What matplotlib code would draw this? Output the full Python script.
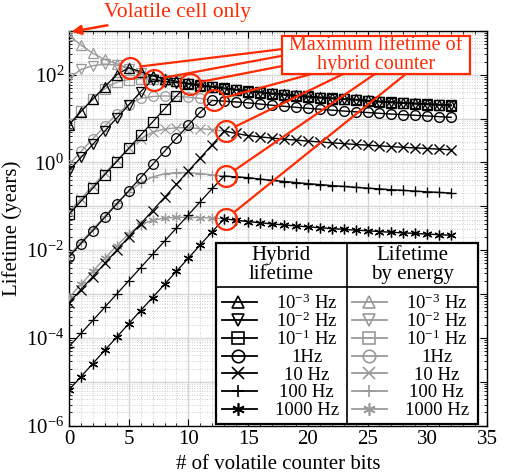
import numpy as np
import matplotlib
matplotlib.use('Agg')
import matplotlib.pyplot as plt
from matplotlib.ticker import MultipleLocator, LogLocator, FuncFormatter, NullFormatter
from matplotlib.patches import Rectangle
from matplotlib.lines import Line2D

plt.rcParams['font.family'] = ['Liberation Serif', 'DejaVu Serif']
plt.rcParams['mathtext.fontset'] = 'custom'
plt.rcParams['mathtext.rm'] = 'Liberation Serif'
plt.rcParams['mathtext.it'] = 'Liberation Serif:italic'

bits = list(range(33))

# hybrid counter lifetime (years)
hyb_1mHz = [7.2, 14.5, 28, 54, 100, 145, 117, 95, 81, 71, 64, 58, 54, 50, 46, 43, 41,
            38, 36, 34, 32.5, 31, 29.5, 28.5, 27.5, 26, 25, 24, 23.2, 22.5, 21.8, 21, 20.5]
hyb_10mHz = [0.65, 1.3, 2.6, 5.2, 10.3, 20.5, 41, 78, 70, 66, 63, 57, 53, 49, 45, 42, 40,
             37, 35, 33, 32, 30, 29, 28, 27, 25.5, 24.5, 23.6, 22.7, 22, 21.3, 20.6, 20]
hyb_100mHz = [0.066, 0.13, 0.26, 0.53, 1.05, 2.1, 4.2, 8.4, 16.7, 33, 62, 56, 52, 48, 44.5,
              41.5, 39, 36.5, 34.5, 32.5, 31, 29.5, 28.5, 27.5, 26.5, 25, 24, 23.2, 22.3,
              21.6, 21, 20.2, 19.6]
hyb_1Hz = [0.0071, 0.0141, 0.028, 0.056, 0.113, 0.225, 0.45, 0.9, 1.8, 3.6, 7.1, 14.2, 26,
           25, 24, 23, 21.5, 20.2, 19.1, 18.1, 17.2, 16.4, 15.6, 14.9, 14.3, 13.8, 13.2,
           12.7, 12.3, 11.9, 11.5, 11.1, 10.7]
hyb_10Hz = [6.3e-4, 1.26e-3, 2.5e-3, 5.0e-3, 0.01, 0.02, 0.04, 0.08, 0.16, 0.32, 0.64,
            1.28, 2.56, 5.2, 4.6, 4.1, 3.83, 3.6, 3.4, 3.24, 3.08, 2.94, 2.81, 2.69, 2.58,
            2.48, 2.39, 2.3, 2.22, 2.15, 2.08, 2.01, 1.95]
hyb_100Hz = [6.3e-5, 1.26e-4, 2.5e-4, 5.0e-4, 1.0e-3, 2.0e-3, 4.0e-3, 8.0e-3, 0.016,
             0.032, 0.064, 0.128, 0.256, 0.49, 0.47, 0.45, 0.417, 0.391, 0.368, 0.348,
             0.329, 0.313, 0.297, 0.284, 0.271, 0.26, 0.249, 0.239, 0.231, 0.222, 0.214,
             0.207, 0.2]
hyb_1000Hz = [6.5e-6, 1.3e-5, 2.6e-5, 5.2e-5, 1.04e-4, 2.1e-4, 4.2e-4, 8.3e-4, 1.66e-3,
              3.3e-3, 6.6e-3, 0.0133, 0.0266, 0.052, 0.048, 0.045, 0.042, 0.0397, 0.0376,
              0.0357, 0.034, 0.0325, 0.0311, 0.0298, 0.0287, 0.0276, 0.0266, 0.0256,
              0.0248, 0.024, 0.0233, 0.0225, 0.0219]

# lifetime by energy; past the peak it coincides with the hybrid curve
en_1mHz = [794, 479, 309, 224, 178, 145] + hyb_1mHz[6:]
en_10mHz = [83, 132, 162, 174, 166, 138, 107, 78] + hyb_10mHz[8:]
en_100mHz = [7.4, 14.8, 28, 48, 68, 78, 81, 81, 78, 71, 62] + hyb_100mHz[11:]
en_1Hz = [0.89, 1.78, 3.5, 6.8, 12.6, 21, 29, 32, 33, 32, 31, 29, 26] + hyb_1Hz[13:]
en_10Hz = [0.076, 0.148, 0.295, 0.575, 1.12, 2.1, 3.5, 4.9, 5.8, 6.2, 6.2, 5.9, 5.6,
           5.2] + hyb_10Hz[14:]
en_100Hz = [0.0076, 0.0151, 0.030, 0.060, 0.117, 0.214, 0.34, 0.47, 0.55, 0.59, 0.59,
            0.56, 0.52, 0.49] + hyb_100Hz[14:]
en_1000Hz = [8.3e-4, 1.66e-3, 3.3e-3, 6.5e-3, 0.0126, 0.0234, 0.038, 0.048, 0.054,
             0.056, 0.056, 0.055, 0.054, 0.052] + hyb_1000Hz[14:]

freq_labels = ['10$^{-3}$ Hz', '10$^{-2}$ Hz', '10$^{-1}$ Hz', '1Hz', '10 Hz',
               '100 Hz', '1000 Hz']
markers = ['^', 'v', 's', 'o', 'x', '+', (6, 2, 0)]
hybrid = [hyb_1mHz, hyb_10mHz, hyb_100mHz, hyb_1Hz, hyb_10Hz, hyb_100Hz, hyb_1000Hz]
energy = [en_1mHz, en_10mHz, en_100mHz, en_1Hz, en_10Hz, en_100Hz, en_1000Hz]

red = '#ff2a00'
gray = '#9a9a9a'

fig = plt.figure(figsize=(5.11, 4.76), dpi=100)
ax = fig.add_axes([0.135, 0.106, 0.818, 0.829])

for e, m in zip(energy, markers):
    ax.plot(bits, e, color=gray, lw=1.0, marker=m, ms=7, mew=0.9,
            mfc='none', mec=gray, zorder=3)
for h, m in zip(hybrid, markers):
    ax.plot(bits, h, color='k', lw=0.9, marker=m, ms=7, mew=0.9,
            mfc='none', mec='k', zorder=4)

ax.set_yscale('log')
ax.set_xlim(0, 35)
ax.set_ylim(1e-6, 1e3)
ax.xaxis.set_major_locator(MultipleLocator(5))
ax.xaxis.set_minor_locator(MultipleLocator(1))
ax.yaxis.set_major_locator(LogLocator(base=10, numticks=20))
ax.yaxis.set_minor_locator(LogLocator(base=10, subs=np.arange(2, 10), numticks=20))
ax.yaxis.set_minor_formatter(NullFormatter())


def fmt(v, pos):
    p = int(round(np.log10(v)))
    return '$10^{%d}$' % p if p % 2 == 0 else ''


ax.yaxis.set_major_formatter(FuncFormatter(fmt))
ax.tick_params(which='both', direction='in', top=True, right=True, labelsize=15)
ax.tick_params(which='major', length=5)
ax.tick_params(which='minor', length=2.5)
ax.grid(which='major', color='#d6d6d6', lw=1.0, ls='-')
ax.grid(which='minor', color='#bdbdbd', lw=0.6, ls=(0, (1, 2)))
ax.set_axisbelow(True)
for s in ax.spines.values():
    s.set_linewidth(1.0)

ax.set_xlabel('# of volatile counter bits', fontsize=15, labelpad=4)
ax.set_ylabel('Lifetime (years)', fontsize=15, labelpad=3)

# red circles at maximum hybrid lifetime
anchors = [(0.510, 0.954), (0.510, 0.937), (0.510, 0.911), (0.581, 0.891),
           (0.656, 0.891), (0.732, 0.891), (0.806, 0.891)]
for h, a in zip(hybrid, anchors):
    k = int(np.argmax(h))
    ax.plot(bits[k] + 0.15, h[k], marker='o', ms=15, mfc='none', mec=red, mew=1.6,
            zorder=6, clip_on=False)
    ax.annotate('', xy=(bits[k] + 0.15, h[k]), xycoords='data',
                xytext=a, textcoords='axes fraction',
                arrowprops=dict(arrowstyle='-', color=red, lw=1.6,
                                shrinkA=0, shrinkB=7.5), zorder=6)

ax.add_patch(Rectangle((0.510, 0.891), 0.449, 0.096, transform=ax.transAxes,
                       facecolor='white', edgecolor=red, lw=1.6, zorder=7,
                       clip_on=False))
ax.text(0.734, 0.939, 'Maximum lifetime of\nhybrid counter', transform=ax.transAxes,
        ha='center', va='center', color=red, fontsize=14.5, linespacing=0.95,
        zorder=8)

ax.annotate('Volatile cell only', xy=(0.006, 0.998), xycoords='axes fraction',
            xytext=(0.084, 1.046), textcoords='axes fraction', ha='left',
            va='center', color=red, fontsize=15.5, annotation_clip=False,
            arrowprops=dict(arrowstyle='-|>', color=red, lw=1.8, mutation_scale=14,
                            shrinkA=1, shrinkB=0))

# legend table
L, R, T, B, MID, HSEP = 0.352, 0.979, 0.463, 0.004, 0.664, 0.350
ax.add_patch(Rectangle((L, B), R - L, T - B, transform=ax.transAxes,
                       facecolor='white', edgecolor='k', lw=1.6, zorder=9))
ax.plot([MID, MID], [B, T], transform=ax.transAxes, color='k', lw=1.2, zorder=10)
ax.plot([L, R], [HSEP, HSEP], transform=ax.transAxes, color='k', lw=1.2, zorder=10)
ax.text((L + MID) / 2, 0.408, 'Hybrid\nlifetime', transform=ax.transAxes,
        ha='center', va='center', fontsize=15, linespacing=1.0, zorder=10)
ax.text((MID + R) / 2, 0.408, 'Lifetime\nby energy', transform=ax.transAxes,
        ha='center', va='center', fontsize=15, linespacing=1.0, zorder=10)
rows = [0.313, 0.268, 0.222, 0.177, 0.132, 0.087, 0.042]
for y, m, lab in zip(rows, markers, freq_labels):
    for x0, x1, xm, xt, c in [(0.365, 0.449, 0.405, 0.569, 'k'),
                              (0.676, 0.760, 0.718, 0.880, gray)]:
        ax.add_line(Line2D([x0, x1], [y, y], transform=ax.transAxes, color=c,
                           lw=1.3, zorder=10))
        ax.add_line(Line2D([xm], [y], transform=ax.transAxes, marker=m, ms=9,
                           mew=1.2, mfc='none', mec=c, zorder=10))
        ax.text(xt, y - 0.004, lab, transform=ax.transAxes, ha='center',
                va='center', fontsize=13.5, zorder=10)

fig.savefig('out.png', dpi=100)
